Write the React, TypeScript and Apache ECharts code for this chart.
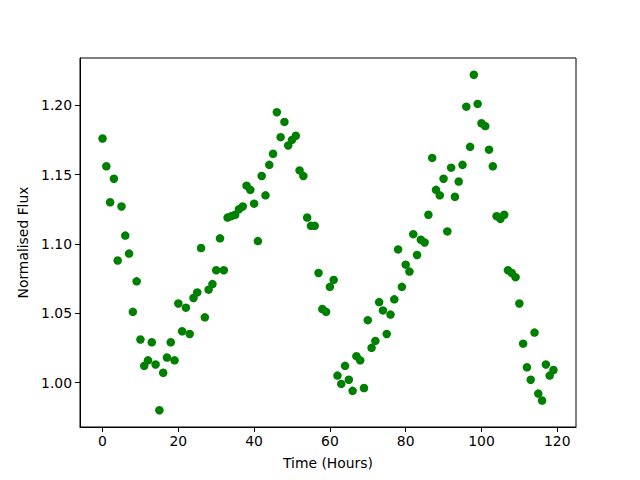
import React, { useEffect, useRef } from "react";
import * as echarts from "echarts";

const hours: number[] = Array.from({ length: 120 }, (_, i) => i);
const flux: number[] = [
  1.176, 1.156, 1.130, 1.147, 1.088, 1.127, 1.106, 1.093, 1.051, 1.073,
  1.031, 1.012, 1.016, 1.029, 1.013, 0.980, 1.007, 1.018, 1.029, 1.016,
  1.057, 1.037, 1.054, 1.035, 1.061, 1.065, 1.097, 1.047, 1.067, 1.071,
  1.081, 1.104, 1.081, 1.119, 1.120, 1.121, 1.125, 1.127, 1.142, 1.139,
  1.129, 1.102, 1.149, 1.135, 1.157, 1.165, 1.195, 1.177, 1.188, 1.171,
  1.175, 1.178, 1.153, 1.149, 1.119, 1.113, 1.113, 1.079, 1.053, 1.051,
  1.069, 1.074, 1.005, 0.999, 1.012, 1.002, 0.994, 1.019, 1.016, 0.996,
  1.045, 1.025, 1.030, 1.058, 1.052, 1.035, 1.049, 1.060, 1.096, 1.069,
  1.085, 1.080, 1.107, 1.092, 1.103, 1.101, 1.121, 1.162, 1.139, 1.135,
  1.147, 1.109, 1.155, 1.134, 1.145, 1.157, 1.199, 1.170, 1.222, 1.201,
  1.187, 1.185, 1.168, 1.156, 1.120, 1.118, 1.121, 1.081, 1.079, 1.076,
  1.057, 1.028, 1.011, 1.002, 1.036, 0.992, 0.987, 1.013, 1.005, 1.009,
];
const xTicks: number[] = [0, 20, 40, 60, 80, 100, 120];
const yTicks: number[] = [1.0, 1.05, 1.1, 1.15, 1.2];

export default function App() {
  const ref = useRef<HTMLDivElement>(null);
  useEffect(() => {
    if (!ref.current) return;
    const chart = echarts.init(ref.current, null, { renderer: "svg" });
    const font = "DejaVu Sans";
    const fs = 13.9;
    chart.setOption({
      animation: false,
      backgroundColor: "#ffffff",
      textStyle: { fontFamily: font },
      grid: {
        left: 80,
        top: 58,
        width: 496,
        height: 369,
        show: true,
        borderColor: "#000000",
        borderWidth: 1,
        backgroundColor: "transparent",
      },
      xAxis: {
        type: "value",
        min: -5.95,
        max: 124.95,
        name: "Time (Hours)",
        nameLocation: "middle",
        nameGap: 29,
        nameTextStyle: { fontFamily: font, fontSize: fs, color: "#000" },
        splitLine: { show: false },
        axisLine: { show: true, onZero: false, lineStyle: { color: "#000", width: 1 } },
        axisTick: { show: true, inside: false, length: 5, customValues: xTicks, lineStyle: { color: "#000" } },
        axisLabel: {
          customValues: xTicks,
          fontFamily: font,
          fontSize: fs,
          color: "#000",
          margin: 7,
          formatter: (v: number) => String(Math.round(v)),
        },
      },
      yAxis: {
        type: "value",
        min: 0.9679,
        max: 1.2341,
        name: "Normalised Flux",
        nameLocation: "middle",
        nameGap: 46,
        nameTextStyle: { fontFamily: font, fontSize: fs, color: "#000" },
        splitLine: { show: false },
        axisLine: { show: true, onZero: false, lineStyle: { color: "#000", width: 1 } },
        axisTick: { show: true, inside: false, length: 5, customValues: yTicks, lineStyle: { color: "#000" } },
        axisLabel: {
          customValues: yTicks,
          fontFamily: font,
          fontSize: fs,
          color: "#000",
          margin: 8,
          formatter: (v: number) => v.toFixed(2),
        },
      },
      series: [
        {
          type: "scatter",
          data: hours.map((h, i) => [h, flux[i]]),
          symbol: "circle",
          symbolSize: 8.5,
          itemStyle: { color: "#008000", opacity: 1 },
        },
      ],
    });
    return () => chart.dispose();
  }, []);
  return (
    <div
      ref={ref}
      style={{ position: "fixed", left: 0, top: 0, width: 640, height: 480 }}
    />
  );
}
